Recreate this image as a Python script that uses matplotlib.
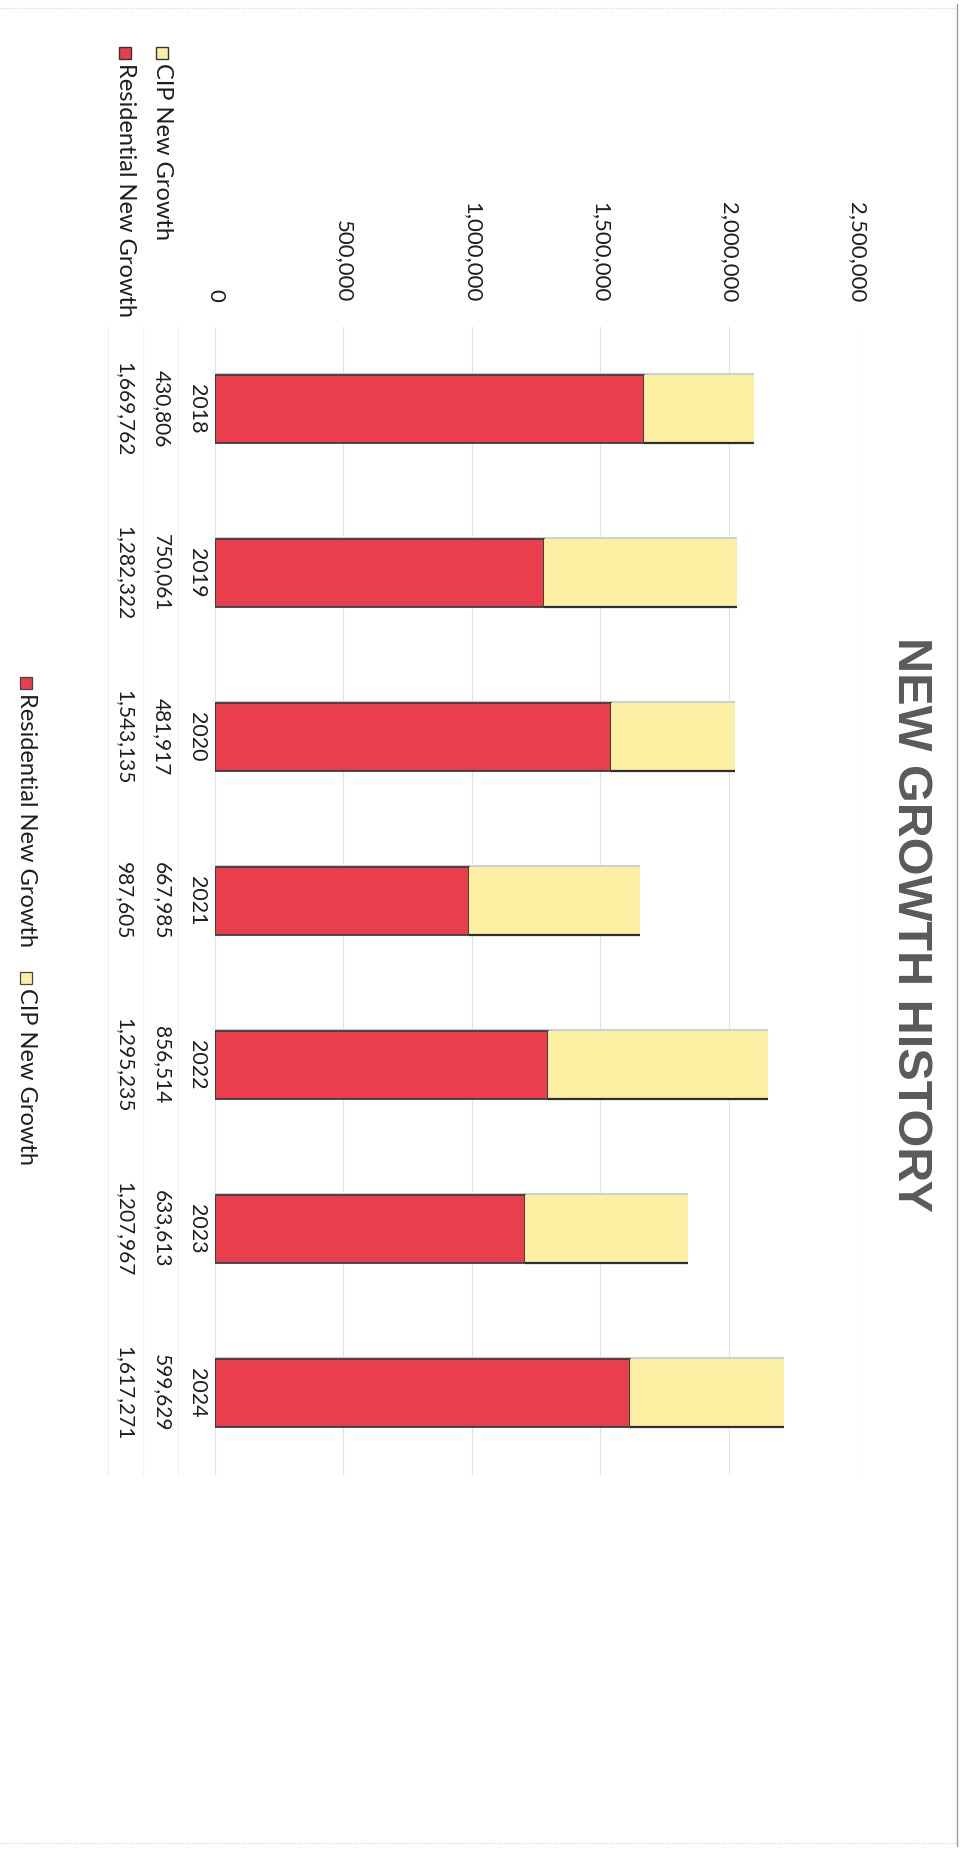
import matplotlib
matplotlib.use('Agg')
import matplotlib.pyplot as plt
from matplotlib.patches import Rectangle
from matplotlib.lines import Line2D
from matplotlib.transforms import blended_transform_factory

years = ['2018', '2019', '2020', '2021', '2022', '2023', '2024']
residential = [1669762, 1282322, 1543135, 987605, 1295235, 1207967, 1617271]
cip = [430806, 750061, 481917, 667985, 856514, 633613, 599629]
value_ticks = [0, 500000, 1000000, 1500000, 2000000, 2500000]
series_names = ['CIP New Growth', 'Residential New Growth']

RED = '#ea3e4d'
YELLOW = '#fbf0a2'
TEXT = '#1e1e1e'

plt.rcParams['font.family'] = ['Lato', 'DejaVu Sans']

W, H = 967, 1851
fig = plt.figure(figsize=(W / 100, H / 100), dpi=100)


def fx(px):
    return px / W


def fy(py):
    return 1 - py / H


# page is turned on its side: values run left to right, years top to bottom
ax = fig.add_axes([fx(215), fy(1475), fx(857) - fx(215), (1475 - 327) / H])
pos = list(range(len(years)))
bar_h = 0.41
# soft shadow along the upper edge of each column
ax.barh([p - 0.012 for p in pos], [r + c for r, c in zip(residential, cip)],
        height=bar_h, color='#c9cfdc', edgecolor='none', zorder=2)
ax.barh(pos, residential, height=bar_h, color=RED, edgecolor='#3b3b44',
        linewidth=1.3, zorder=3)
ax.barh(pos, cip, left=residential, height=bar_h, color=YELLOW,
        edgecolor='none', zorder=3)
for i, (r, c) in enumerate(zip(residential, cip)):
    ax.plot([r, r + c], [i + bar_h / 2, i + bar_h / 2], color='#2e2e2e',
            lw=1.6, zorder=4, solid_capstyle='butt')

ax.set_xlim(0, 2500000)
ax.set_ylim(len(years) - 0.5, -0.5)
ax.set_xticks(value_ticks)
ax.set_xticklabels([f'{v:,}' for v in value_ticks])
ax.xaxis.tick_top()
ax.tick_params(axis='x', length=0, pad=18, labelrotation=-90,
               labelsize=16, labelcolor=TEXT)
ax.set_yticks([])
ax.grid(axis='x', color='#e3e3e3', lw=0.9, zorder=0)
for s in ax.spines.values():
    s.set_visible(False)

# data table under the columns
trans = blended_transform_factory(fig.transFigure, ax.transData)
for i in pos:
    ax.text(fx(197), i, years[i], transform=trans, rotation=-90,
            ha='center', va='center', fontsize=15.5, color=TEXT)
    ax.text(fx(162), i, f'{cip[i]:,}', transform=trans, rotation=-90,
            ha='center', va='center', fontsize=15, color=TEXT)
    ax.text(fx(124), i, f'{residential[i]:,}', transform=trans, rotation=-90,
            ha='center', va='center', fontsize=15, color=TEXT)

for xp in (108, 143, 178):
    fig.add_artist(Line2D([fx(xp), fx(xp)], [fy(327), fy(1475)],
                          color='#f1f1f1', lw=0.8))

# row headers with swatches
for name, color, xp in [(series_names[0], YELLOW, 162), (series_names[1], RED, 125)]:
    fig.add_artist(Rectangle((fx(xp - 6), fy(59)), fx(12), 12 / H,
                             facecolor=color, edgecolor='#333333', lw=1.0))
    fig.text(fx(xp), fy(63), name, rotation=-90, ha='center', va='top',
             fontsize=17, color=TEXT)

# legend
for name, color, yp in [(series_names[1], RED, 677), (series_names[0], YELLOW, 972)]:
    fig.add_artist(Rectangle((fx(20), fy(yp + 12)), fx(12), 12 / H,
                             facecolor=color, edgecolor='#444444', lw=0.9))
    fig.text(fx(26), fy(yp + 16), name, rotation=-90, ha='center', va='top',
             fontsize=17, color=TEXT)

fig.text(fx(911), fy(924), 'NEW GROWTH HISTORY', rotation=-90, ha='center',
         va='center', fontsize=35, weight='bold', color='#5a5a5a',
         family='Liberation Sans')

# page edges
fig.add_artist(Line2D([fx(957), fx(957)], [fy(4), fy(1846)], color='#9a9a9a', lw=1.0))
fig.add_artist(Line2D([0, fx(957)], [fy(8), fy(8)], color='#d0d0d0', lw=0.8, ls=':'))
fig.add_artist(Line2D([0, fx(957)], [fy(1843), fy(1843)], color='#d0d0d0', lw=0.8, ls=':'))

fig.savefig('out.png', dpi=100)
